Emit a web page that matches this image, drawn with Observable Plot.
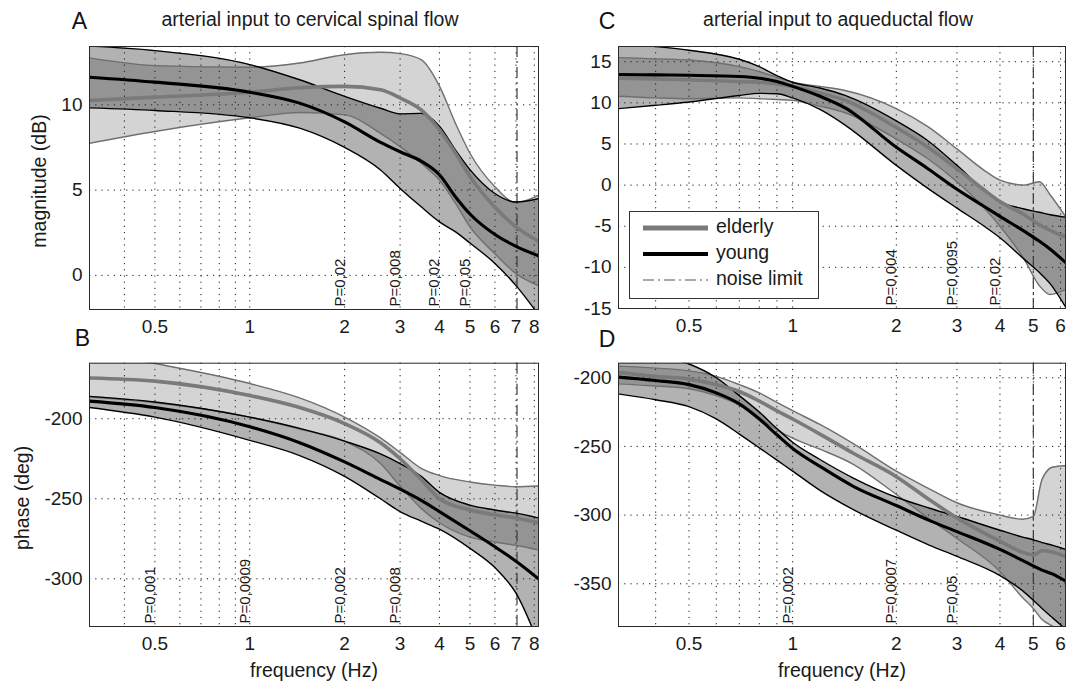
<!DOCTYPE html>
<html><head><meta charset="utf-8">
<script src="https://cdn.jsdelivr.net/npm/d3@7"></script>
<script src="https://cdn.jsdelivr.net/npm/@observablehq/plot@0.6"></script>
<style>
body{margin:0;background:#fff;}
#fig{position:relative;width:1066px;height:682px;overflow:hidden;background:#fff;font-family:"Liberation Sans",Arial,sans-serif;color:#1a1a1a;}
#fig svg.panel{position:absolute;overflow:visible;}
#legend{position:absolute;left:629px;top:211px;width:188px;height:86px;border:1px solid #333;background:#fff;}
#legend span{position:absolute;left:86px;font-size:19.5px;line-height:1;white-space:nowrap;}
</style></head><body><div id="fig"></div>
<script>
// ---------- Panel A: magnitude, cervical spinal flow ----------
const freqA = [0.31, 0.5, 1, 1.44, 2, 2.6, 3, 3.5, 4, 4.5, 5, 6, 7, 8.25];
const youngMeanA = [11.62, 11.33, 10.74, 10.1, 9.0, 7.8, 7.25, 6.7, 5.9, 4.6, 3.6, 2.4, 1.7, 1.15];
const youngUpA   = [13.44, 13.18, 12.36, 11.47, 10.5, 9.8, 9.47, 9.5, 8.75, 7.35, 6.2, 4.8, 4.3, 4.5];
const youngLoA   = [9.82, 9.67, 9.24, 8.63, 7.5, 6.18, 5.1, 4.02, 3.14, 2.55, 1.9, 0.7, -0.6, -2.3];
const elderMeanA = [10.25, 10.45, 10.74, 11.0, 11.08, 10.88, 10.4, 9.7, 8.53, 7.16, 5.8, 4.0, 2.84, 2.0];
const elderUpA   = [12.75, 12.3, 12.2, 12.45, 12.94, 13.08, 13.0, 12.65, 11.1, 8.9, 7.16, 5.2, 4.27, 4.7];
const elderLoA   = [7.75, 8.44, 9.24, 9.55, 9.41, 8.33, 7.55, 6.57, 5.59, 4.22, 2.84, 1.27, 0.1, -0.6];
const pFreqA = [2, 3, 4, 5];
const pTextA = ["P=0,02", "P=0,008", "P=0,02", "P=0,05"];

// ---------- Panel B: phase, cervical spinal flow ----------
const freqB = [0.31, 0.5, 1, 1.44, 2, 2.6, 3, 3.5, 4, 5, 6, 7, 8.25];
const youngMeanB = [-189, -193, -205, -215, -227, -238, -244, -251, -258, -270, -280, -289, -300];
const youngUpB   = [-186, -189.5, -199, -206, -214, -222, -228, -236, -246, -254, -257, -259, -262];
const youngLoB   = [-193, -199, -213.5, -223, -236, -250, -258, -264, -269, -281, -293, -309, -340];
const elderMeanB = [-174.5, -176.5, -185.5, -193, -203, -215, -225, -238, -250, -257, -260, -262, -265];
const elderUpB   = [-158, -165.5, -178, -187, -199, -212, -221, -231, -235.5, -239.5, -241.5, -242.5, -242];
const elderLoB   = [-186.5, -190, -199, -206.5, -214, -228, -242, -256, -265, -274, -277, -279, -282];
const pFreqB = [0.5, 1, 2, 3];
const pTextB = ["P=0,001", "P=0,0009", "P=0,002", "P=0,008"];

// ---------- Panel C: magnitude, aqueductal flow ----------
const freqC = [0.312, 0.4, 0.5, 0.7, 0.8, 0.9, 1, 1.2, 1.42, 2, 2.47, 3, 3.6, 4, 4.7, 5.2, 5.6, 6.2];
const youngMeanC = [13.45, 13.4, 13.35, 13.2, 13.0, 12.6, 12.0, 10.8, 9.4, 4.6, 2.0, -0.5, -2.6, -3.8, -5.6, -6.8, -7.8, -9.4];
const youngUpC   = [17.3, 16.85, 16.4, 15.3, 14.4, 13.3, 12.5, 11.8, 10.9, 7.8, 5.4, 2.4, -0.6, -2.0, -2.9, -3.3, -3.6, -3.9];
const youngLoC   = [9.3, 9.7, 10.1, 10.9, 11.15, 11.1, 10.6, 9.2, 7.3, 2.4, -0.4, -2.8, -5.0, -6.4, -9.0, -10.6, -12.0, -14.8];
const elderMeanC = [13.0, 12.9, 12.8, 12.6, 12.5, 12.3, 12.0, 11.2, 10.3, 7.0, 4.6, 2.0, -0.6, -2.0, -3.6, -4.8, -5.5, -6.3];
const elderUpC   = [15.5, 15.35, 15.2, 14.4, 13.8, 13.1, 12.5, 12.0, 11.5, 9.3, 7.1, 4.4, 1.8, 0.6, 0.0, 0.4, -1.2, -3.8];
const elderLoC   = [10.8, 10.6, 10.5, 10.6, 10.5, 10.4, 10.3, 9.6, 8.8, 5.6, 3.2, 0.4, -2.8, -5.0, -9.0, -12.2, -13.3, -12.7];
const pFreqC = [2, 3, 4];
const pTextC = ["P=0,004", "P=0,0095", "P=0,02"];

// ---------- Panel D: phase, aqueductal flow ----------
const freqD = [0.31, 0.4, 0.5, 0.6, 0.7, 0.8, 0.9, 1, 1.2, 1.5, 2, 2.5, 3, 4, 4.65, 5, 5.3, 5.7, 6.2];
const youngMeanD = [-199.5, -202, -205, -211, -219, -230, -241.5, -251.5, -264.5, -279, -293, -304, -312, -325, -333, -337, -340, -343, -348];
const youngUpD   = [-178, -184, -190, -200, -213, -225, -237, -247, -259.5, -273, -287, -295, -301, -311, -316, -318, -320, -322, -325];
const youngLoD   = [-211.7, -216, -221, -230, -241, -251, -260, -268, -282, -296, -311, -322, -330, -344, -355, -362, -368, -375, -383];
const elderMeanD = [-196, -199, -201, -205, -210, -217, -224, -230, -241, -255, -272, -289, -302, -319, -327, -329, -326, -327, -330];
const elderUpD   = [-191.5, -193, -195, -199, -205, -211, -218, -224, -234, -248, -268, -281, -291, -300, -303, -301, -274, -265, -264];
const elderLoD   = [-204.4, -206, -208, -213, -220, -229, -238, -244, -252, -263, -285, -303, -317, -341, -360, -368, -376, -381, -386];
const pFreqD = [1, 2, 3];
const pTextD = ["P=0,002", "P=0,0007", "P=0,05"];

// ---------- axes / ticks ----------
const xTicksLeft = [0.5, 1, 2, 3, 4, 5, 6, 7, 8];
const xGridLeft = [0.4, 0.5, 0.6, 0.7, 0.8, 0.9, 1, 2, 3, 4, 5, 6, 7, 8];
const xTicksRight = [0.5, 1, 2, 3, 4, 5, 6];
const xGridRight = [0.4, 0.5, 0.6, 0.7, 0.8, 0.9, 1, 2, 3, 4, 5, 6];
const xDomainLeft = [0.31, 8.25];
const xDomainRight = [0.312, 6.2];
const yTicksA = [0, 5, 10];
const yTicksB = [-300, -250, -200];
const yTicksC = [-15, -10, -5, 0, 5, 10, 15];
const yTicksD = [-350, -300, -250, -200];
const yDomainA = [-2, 13.42];
const yDomainB = [-329.8, -165.3];
const yDomainC = [-15, 16.85];
const yDomainD = [-381.1, -189.4];
const noiseLeft = 7.05;
const noiseRight = 5.0;

const FONT = '"Liberation Sans", Arial, sans-serif';
const curve = "monotone-x";
const INK = "#1a1a1a";

function panel(cfg) {
  const rows = cfg.freq.map((f, i) => ({f, ym: cfg.ym[i], yu: cfg.yu[i], yl: cfg.yl[i], em: cfg.em[i], eu: cfg.eu[i], el: cfg.el[i]}));
  const pRows = cfg.pFreq.map((f, i) => ({f, t: cfg.pText[i]}));
  const marks = [
    Plot.areaY(rows, {x: "f", y1: "el", y2: "eu", fill: "#000", fillOpacity: 0.17, curve, clip: true}),
    Plot.areaY(rows, {x: "f", y1: "yl", y2: "yu", fill: "#000", fillOpacity: 0.30, curve, clip: true}),
    Plot.ruleX(cfg.xGrid, {stroke: INK, strokeWidth: 1, strokeDasharray: "1.2,5"}),
    Plot.ruleY(cfg.yTicks, {stroke: INK, strokeWidth: 1, strokeDasharray: "1.2,5"}),
    Plot.ruleX([cfg.noise], {stroke: "#3a3a3a", strokeWidth: 1.2, strokeDasharray: "11,4,2,4"}),
    Plot.lineY(rows, {x: "f", y: "eu", stroke: "#6f6f6f", strokeWidth: 1.4, curve, clip: true}),
    Plot.lineY(rows, {x: "f", y: "el", stroke: "#6f6f6f", strokeWidth: 1.4, curve, clip: true}),
    Plot.lineY(rows, {x: "f", y: "yu", stroke: "#000", strokeWidth: 1.4, curve, clip: true}),
    Plot.lineY(rows, {x: "f", y: "yl", stroke: "#000", strokeWidth: 1.4, curve, clip: true}),
    Plot.lineY(rows, {x: "f", y: "em", stroke: "#7a7a7a", strokeWidth: 3.6, curve, clip: true}),
    Plot.lineY(rows, {x: "f", y: "ym", stroke: "#000", strokeWidth: 3.1, curve, clip: true}),
    Plot.text(pRows, {x: "f", text: "t", frameAnchor: "bottom", rotate: -90, textAnchor: "start", lineAnchor: "bottom", dy: -3, fontSize: 15, fill: INK}),
    Plot.frame({stroke: "#2a2a2a", strokeWidth: 1}),
    // tick labels
    Plot.text(cfg.xTicks, {x: d => d, text: d => String(d), frameAnchor: "bottom", dy: 10, lineAnchor: "top", textAnchor: "middle", fontSize: 19, fill: INK}),
    Plot.text(cfg.yTicks, {y: d => d, text: d => String(d), frameAnchor: "left", dx: -7, textAnchor: "end", lineAnchor: "middle", fontSize: 19, fill: INK}),
    Plot.text([cfg.letter], {text: d => d, frameAnchor: "top-left", dx: cfg.letterDx, dy: cfg.letterDy, lineAnchor: "bottom", textAnchor: "middle", fontSize: 23, fill: "#111"})
  ];
  if (cfg.title) marks.push(Plot.text([cfg.title], {text: d => d, frameAnchor: "top", dx: cfg.titleDx, dy: -27, lineAnchor: "middle", textAnchor: "middle", fontSize: 19.5, fill: INK}));
  if (cfg.yLabel) marks.push(Plot.text([cfg.yLabel], {text: d => d, frameAnchor: "left", rotate: -90, dx: cfg.yLabelDx, dy: 3, lineAnchor: "middle", textAnchor: "middle", fontSize: 19.5, fill: INK}));
  if (cfg.xLabel) marks.push(Plot.text([cfg.xLabel], {text: d => d, frameAnchor: "bottom", dy: 44, lineAnchor: "middle", textAnchor: "middle", fontSize: 19.5, fill: INK}));
  const svg = Plot.plot({
    width: cfg.width, height: cfg.height,
    marginLeft: cfg.ml, marginRight: cfg.mr, marginTop: cfg.mt, marginBottom: cfg.mb,
    style: {fontFamily: FONT, fontSize: "19px", color: INK, background: "transparent", overflow: "visible"},
    x: {type: "log", domain: cfg.xDomain, axis: null},
    y: {domain: cfg.yDomain, axis: null},
    marks
  });
  svg.classList.add("panel");
  svg.style.left = cfg.left + "px";
  svg.style.top = cfg.top + "px";
  return svg;
}

const fig = document.getElementById("fig");
fig.appendChild(panel({
  freq: freqA, ym: youngMeanA, yu: youngUpA, yl: youngLoA, em: elderMeanA, eu: elderUpA, el: elderLoA,
  pFreq: pFreqA, pText: pTextA, xDomain: xDomainLeft, xTicks: xTicksLeft, xGrid: xGridLeft,
  yDomain: yDomainA, yTicks: yTicksA, noise: noiseLeft,
  letter: "A", letterDx: -10, letterDy: -18, title: "arterial input to cervical spinal flow", titleDx: -4,
  yLabel: "magnitude (dB)", yLabelDx: -50,
  left: 0, top: 0, width: 545, height: 345, ml: 89, mr: 7, mt: 46, mb: 36
}));
fig.appendChild(panel({
  freq: freqB, ym: youngMeanB, yu: youngUpB, yl: youngLoB, em: elderMeanB, eu: elderUpB, el: elderLoB,
  pFreq: pFreqB, pText: pTextB, xDomain: xDomainLeft, xTicks: xTicksLeft, xGrid: xGridLeft,
  yDomain: yDomainB, yTicks: yTicksB, noise: noiseLeft,
  letter: "B", letterDx: -7, letterDy: -17.7,
  yLabel: "phase (deg)", yLabelDx: -67, xLabel: "frequency (Hz)",
  left: 0, top: 345, width: 545, height: 337, ml: 89, mr: 7, mt: 17.7, mb: 56
}));
fig.appendChild(panel({
  freq: freqC, ym: youngMeanC, yu: youngUpC, yl: youngLoC, em: elderMeanC, eu: elderUpC, el: elderLoC,
  pFreq: pFreqC, pText: pTextC, xDomain: xDomainRight, xTicks: xTicksRight, xGrid: xGridRight,
  yDomain: yDomainC, yTicks: yTicksC, noise: noiseRight,
  letter: "C", letterDx: -11.5, letterDy: -18, title: "arterial input to aqueductal flow", titleDx: -4,
  left: 540, top: 0, width: 526, height: 345, ml: 78, mr: 1, mt: 46, mb: 37
}));
fig.appendChild(panel({
  freq: freqD, ym: youngMeanD, yu: youngUpD, yl: youngLoD, em: elderMeanD, eu: elderUpD, el: elderLoD,
  pFreq: pFreqD, pText: pTextD, xDomain: xDomainRight, xTicks: xTicksRight, xGrid: xGridRight,
  yDomain: yDomainD, yTicks: yTicksD, noise: noiseRight,
  letter: "D", letterDx: -11.5, letterDy: -16,
  xLabel: "frequency (Hz)",
  left: 540, top: 345, width: 526, height: 337, ml: 78, mr: 1, mt: 17.7, mb: 56
}));

// legend (panel C)
const legendItems = ["elderly", "young", "noise limit"];
const legend = document.createElement("div");
legend.id = "legend";
const ns = "http://www.w3.org/2000/svg";
const lsvg = document.createElementNS(ns, "svg");
lsvg.setAttribute("width", 188); lsvg.setAttribute("height", 86);
lsvg.style.position = "absolute"; lsvg.style.left = "0"; lsvg.style.top = "0";
const legendStyles = [
  {stroke: "#7a7a7a", width: 5, dash: null},
  {stroke: "#000", width: 4, dash: null},
  {stroke: "#555", width: 1.2, dash: "11,4,2,4"}
];
legendItems.forEach((name, i) => {
  const yc = 16 + i * 26;
  const ln = document.createElementNS(ns, "line");
  ln.setAttribute("x1", 13); ln.setAttribute("x2", 78);
  ln.setAttribute("y1", yc); ln.setAttribute("y2", yc);
  ln.setAttribute("stroke", legendStyles[i].stroke);
  ln.setAttribute("stroke-width", legendStyles[i].width);
  if (legendStyles[i].dash) ln.setAttribute("stroke-dasharray", legendStyles[i].dash);
  lsvg.appendChild(ln);
  const sp = document.createElement("span");
  sp.textContent = name;
  sp.style.top = (yc - 11) + "px";
  legend.appendChild(sp);
});
legend.appendChild(lsvg);
fig.appendChild(legend);
</script></body></html>
